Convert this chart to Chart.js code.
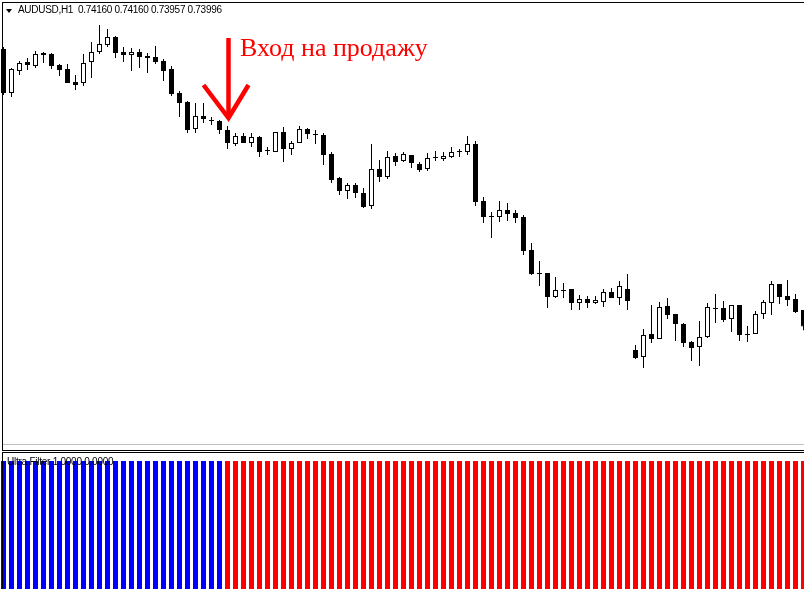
<!DOCTYPE html>
<html>
<head>
<meta charset="utf-8">
<script src="https://cdn.jsdelivr.net/npm/chart.js@4.4.1/dist/chart.umd.min.js"></script>
<style>
html, body { margin: 0; padding: 0; background: #fff; overflow: hidden; }
#wrap { position: relative; width: 804px; height: 589px; }
canvas { position: absolute; left: 0; }
#mainChart { top: 0; }
#filterChart { top: 453px; }
.ln { position: absolute; background: #000; }
.txt { position: absolute; white-space: pre; font-family: "Liberation Sans", Arial, sans-serif; color: #000; }
#hdr { left: 18px; top: 4px; font-size: 10px; line-height: 12px; letter-spacing: -0.3px; }
#tri { position: absolute; left: 6px; top: 9px; width: 0; height: 0;
       border-left: 3px solid transparent; border-right: 3px solid transparent; border-top: 4px solid #000; }
#note { left: 240px; top: 36px; font-family: "Liberation Serif", "Times New Roman", serif;
        font-size: 26px; line-height: 24px; color: #ff0000; }
#flabel { left: 7px; top: 456px; font-size: 10px; line-height: 12px; letter-spacing: -0.25px; }
</style>
</head>
<body>
<div id="wrap">
  <canvas id="mainChart" width="804" height="444"></canvas>
  <canvas id="filterChart" width="804" height="136"></canvas>

  <div class="ln" style="left:2px;top:2px;width:802px;height:1px"></div>
  <div class="ln" style="left:2px;top:2px;width:1px;height:449px"></div>
  <div class="ln" style="left:3px;top:444px;width:801px;height:1px;background:#c0c0c0"></div>
  <div class="ln" style="left:2px;top:450px;width:802px;height:1px"></div>
  <div class="ln" style="left:2px;top:452px;width:802px;height:1px"></div>
  <div class="ln" style="left:2px;top:452px;width:1px;height:137px"></div>

  <div id="tri"></div>
  <div class="txt" id="hdr">AUDUSD,H1  0.74160 0.74160 0.73957 0.73996</div>
  <div class="txt" id="note">Вход на продажу</div>
  <div class="txt" id="flabel">Ultra Filter 1.0000 0.0000</div>
</div>

<script>
// AUDUSD H1 candles, oldest first
const opens = [
  0.7677, 0.7633, 0.7655, 0.7664, 0.7660, 0.7673, 0.7672, 0.7661, 0.7657, 0.7644,
  0.7643, 0.7664, 0.7674, 0.7681, 0.7689, 0.7674, 0.7671, 0.7674, 0.7670, 0.7669,
  0.7665, 0.7657, 0.7633, 0.7624, 0.7597, 0.7610, 0.7606, 0.7605, 0.7596, 0.7582,
  0.7590, 0.7583, 0.7589, 0.7576, 0.7574, 0.7594, 0.7577, 0.7583, 0.7597, 0.7592,
  0.7591, 0.7572, 0.7548, 0.7535, 0.7541, 0.7533, 0.7520, 0.7557, 0.7549, 0.7570,
  0.7565, 0.7571, 0.7562, 0.7557, 0.7568, 0.7567, 0.7569, 0.7574, 0.7574, 0.7582,
  0.7525, 0.7510, 0.7509, 0.7516, 0.7513, 0.7509, 0.7476, 0.7453, 0.7453, 0.7429,
  0.7436, 0.7437, 0.7423, 0.7427, 0.7423, 0.7424, 0.7434, 0.7428, 0.7437, 0.7376,
  0.7369, 0.7392, 0.7387, 0.7420, 0.7412, 0.7402, 0.7384, 0.7379, 0.7389, 0.7418,
  0.7418, 0.7407, 0.7421, 0.7392, 0.7392, 0.7412, 0.7423, 0.7442, 0.7430, 0.7427,
  0.74160
];
const highs = [
  0.7679, 0.7658, 0.7665, 0.7668, 0.7675, 0.7674, 0.7673, 0.7662, 0.7662, 0.7651,
  0.7672, 0.7684, 0.7701, 0.7697, 0.7690, 0.7679, 0.7678, 0.7677, 0.7673, 0.7680,
  0.7667, 0.7660, 0.7635, 0.7625, 0.7623, 0.7623, 0.7609, 0.7606, 0.7600, 0.7593,
  0.7593, 0.7593, 0.7590, 0.7579, 0.7594, 0.7599, 0.7585, 0.7600, 0.7598, 0.7596,
  0.7593, 0.7574, 0.7549, 0.7543, 0.7543, 0.7538, 0.7582, 0.7566, 0.7575, 0.7573,
  0.7574, 0.7571, 0.7564, 0.7573, 0.7575, 0.7574, 0.7579, 0.7577, 0.7590, 0.7585,
  0.7529, 0.7514, 0.7525, 0.7523, 0.7516, 0.7511, 0.7483, 0.7465, 0.7453, 0.7449,
  0.7443, 0.7437, 0.7431, 0.7430, 0.7430, 0.7437, 0.7438, 0.7445, 0.7452, 0.7381,
  0.7397, 0.7421, 0.7424, 0.7428, 0.7412, 0.7403, 0.7385, 0.7405, 0.7423, 0.7432,
  0.7425, 0.7421, 0.7421, 0.7400, 0.7415, 0.7426, 0.7445, 0.7442, 0.7446, 0.7432,
  0.74160
];
const lows = [
  0.7631, 0.7629, 0.7651, 0.7656, 0.7658, 0.7663, 0.7657, 0.7650, 0.7643, 0.7636,
  0.7640, 0.7648, 0.7672, 0.7679, 0.7668, 0.7664, 0.7655, 0.7658, 0.7653, 0.7662,
  0.7645, 0.7630, 0.7609, 0.7593, 0.7593, 0.7603, 0.7601, 0.7592, 0.7577, 0.7580,
  0.7583, 0.7579, 0.7569, 0.7571, 0.7574, 0.7564, 0.7571, 0.7583, 0.7587, 0.7582,
  0.7561, 0.7543, 0.7531, 0.7527, 0.7528, 0.7518, 0.7517, 0.7544, 0.7547, 0.7560,
  0.7564, 0.7558, 0.7554, 0.7555, 0.7565, 0.7565, 0.7568, 0.7569, 0.7571, 0.7520,
  0.7503, 0.7488, 0.7504, 0.7505, 0.7503, 0.7471, 0.7451, 0.7440, 0.7418, 0.7428,
  0.7428, 0.7416, 0.7416, 0.7418, 0.7422, 0.7419, 0.7428, 0.7421, 0.7416, 0.7367,
  0.7358, 0.7383, 0.7387, 0.7407, 0.7385, 0.7379, 0.7365, 0.7360, 0.7388, 0.7403,
  0.7404, 0.7394, 0.7385, 0.7384, 0.7392, 0.7407, 0.7411, 0.7422, 0.7420, 0.7413,
  0.73957
];
const closes = [
  0.7633, 0.7657, 0.7663, 0.7661, 0.7672, 0.7671, 0.7660, 0.7656, 0.7643, 0.7641,
  0.7663, 0.7674, 0.7682, 0.7689, 0.7673, 0.7671, 0.7674, 0.7669, 0.7668, 0.7664,
  0.7655, 0.7632, 0.7623, 0.7596, 0.7610, 0.7607, 0.7605, 0.7596, 0.7583, 0.7590,
  0.7583, 0.7589, 0.7574, 0.7575, 0.7594, 0.7577, 0.7583, 0.7597, 0.7592, 0.7591,
  0.7571, 0.7546, 0.7535, 0.7541, 0.7533, 0.7519, 0.7557, 0.7549, 0.7569, 0.7564,
  0.7572, 0.7563, 0.7556, 0.7568, 0.7569, 0.7570, 0.7574, 0.7575, 0.7582, 0.7524,
  0.7509, 0.7509, 0.7516, 0.7512, 0.7508, 0.7475, 0.7452, 0.7452, 0.7429, 0.7436,
  0.7435, 0.7423, 0.7427, 0.7423, 0.7426, 0.7434, 0.7428, 0.7440, 0.7425, 0.7368,
  0.7391, 0.7387, 0.7419, 0.7411, 0.7402, 0.7383, 0.7378, 0.7389, 0.7419, 0.7417,
  0.7406, 0.7421, 0.7391, 0.7391, 0.7412, 0.7424, 0.7442, 0.7429, 0.7426, 0.7414,
  0.73996
];
// Ultra Filter signal per bar: 1 = buy (blue), -1 = sell (red)
const filterSignal = [
   1,  1,  1,  1,  1,  1,  1,  1,  1,  1,
   1,  1,  1,  1,  1,  1,  1,  1,  1,  1,
   1,  1,  1,  1,  1,  1,  1,  1, -1, -1,
  -1, -1, -1, -1, -1, -1, -1, -1, -1, -1,
  -1, -1, -1, -1, -1, -1, -1, -1, -1, -1,
  -1, -1, -1, -1, -1, -1, -1, -1, -1, -1,
  -1, -1, -1, -1, -1, -1, -1, -1, -1, -1,
  -1, -1, -1, -1, -1, -1, -1, -1, -1, -1,
  -1, -1, -1, -1, -1, -1, -1, -1, -1, -1,
  -1, -1, -1, -1, -1, -1, -1, -1, -1, -1,
  -1
];
const entryBar = 28; // "Вход на продажу" arrow points here

// x axis: one candle every 8px, first centred at 3.5px
const xMin = -0.4375, xMax = 100.0625;

let bodies = [], wicks = [];
for (let i = 0; i < opens.length; i++) {
    bodies.push({ x: i, y: [opens[i], closes[i]] });
    wicks.push({ x: i, y: [lows[i], highs[i]] });
}

const entryArrow = {
    id: 'entryArrow',
    afterDatasetsDraw(chart) {
        const ctx = chart.ctx;
        const tx = chart.scales.x.getPixelForValue(entryBar) + 1;
        const ty = chart.scales.y.getPixelForValue(highs[entryBar]) - 8;
        ctx.save();
        ctx.strokeStyle = '#ff0000';
        ctx.lineWidth = 4.5;
        ctx.lineJoin = 'miter';
        ctx.beginPath();
        ctx.moveTo(tx, ty - 80);
        ctx.lineTo(tx, ty - 2);
        ctx.stroke();
        ctx.beginPath();
        ctx.moveTo(tx - 25, ty - 33);
        ctx.lineTo(tx, ty);
        ctx.lineTo(tx + 20, ty - 33);
        ctx.stroke();
        ctx.restore();
    }
};

new Chart(document.getElementById('mainChart'), {
    type: 'bar',
    data: {
        datasets: [{
            label: 'body',
            data: bodies,
            order: 0,
            grouped: false,
            barThickness: 5,
            borderWidth: 1,
            borderSkipped: false,
            inflateAmount: 0,
            borderColor: '#000',
            backgroundColor: function (context) {
                let i = context.dataIndex;
                return closes[i] >= opens[i] ? '#fff' : '#000';
            }
        }, {
            label: 'wick',
            data: wicks,
            order: 1,
            grouped: false,
            barThickness: 1,
            borderWidth: 0,
            inflateAmount: 0,
            backgroundColor: '#000'
        }]
    },
    options: {
        responsive: false,
        animation: false,
        layout: { padding: 0 },
        plugins: { legend: { display: false }, tooltip: { enabled: false } },
        scales: {
            x: { type: 'linear', min: xMin, max: xMax, display: false, offset: false },
            y: { min: 0.7282, max: 0.7726, display: false }
        }
    },
    plugins: [entryArrow]
});

let buyBars = [], sellBars = [];
for (let i = 0; i < filterSignal.length; i++) {
    buyBars.push({ x: i, y: filterSignal[i] > 0 ? 1 : null });
    sellBars.push({ x: i, y: filterSignal[i] < 0 ? 1 : null });
}

new Chart(document.getElementById('filterChart'), {
    type: 'bar',
    data: {
        datasets: [
            { label: 'buy', data: buyBars, backgroundColor: '#0000ff', grouped: false, barThickness: 5, inflateAmount: 0, borderWidth: 0 },
            { label: 'sell', data: sellBars, backgroundColor: '#ff0000', grouped: false, barThickness: 5, inflateAmount: 0, borderWidth: 0 }
        ]
    },
    options: {
        responsive: false,
        animation: false,
        layout: { padding: 0 },
        plugins: { legend: { display: false }, tooltip: { enabled: false } },
        scales: {
            x: { type: 'linear', min: xMin, max: xMax, display: false, offset: false },
            y: { min: 0, max: 1.0625, display: false }
        }
    }
});
</script>
</body>
</html>
